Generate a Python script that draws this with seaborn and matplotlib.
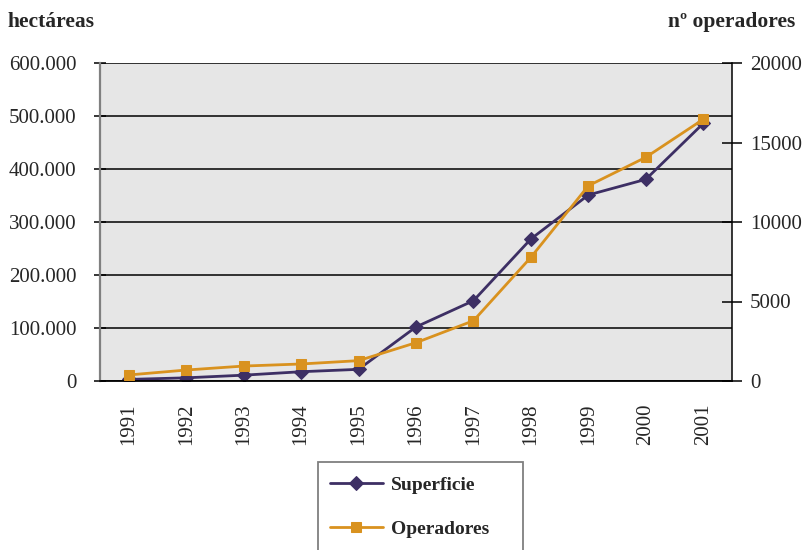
import numpy as np
import pandas as pd
import matplotlib
matplotlib.use("Agg")
import matplotlib.pyplot as plt
import seaborn as sns
from matplotlib.patches import Rectangle
from matplotlib.ticker import FixedLocator, FuncFormatter

years = ["1991", "1992", "1993", "1994", "1995", "1996", "1997", "1998", "1999", "2000", "2001"]
superficie = [3000, 6000, 11000, 17500, 22000, 102000, 151500, 268000, 351000, 380500, 486000]
operadores = [380, 690, 940, 1070, 1280, 2410, 3790, 7780, 12280, 14070, 16460]
left_ticks = [0, 100000, 200000, 300000, 400000, 500000, 600000]
right_ticks = [0, 5000, 10000, 15000, 20000]

df = pd.DataFrame({"pos": np.arange(len(years)), "year": years,
                   "Superficie": superficie, "Operadores": operadores})

sns.set_style("white")
plt.rcParams["font.family"] = ["Liberation Serif", "DejaVu Serif"]

purple = "#3D2F64"
orange = "#D9921F"

fig = plt.figure(figsize=(8.1, 5.5), dpi=100)
ax = fig.add_axes([100/810, 1-381/550, (732-100)/810, (381-63)/550])
ax.set_facecolor("#E6E6E6")
ax2 = ax.twinx()

sns.lineplot(data=df, x="pos", y="Superficie", ax=ax, color=purple, marker="D",
             markersize=7, markeredgecolor=purple, linewidth=2.0, label="Superficie", legend=False)
sns.lineplot(data=df, x="pos", y="Operadores", ax=ax2, color=orange, marker="s",
             markersize=7.5, markeredgecolor=orange, linewidth=2.0, label="Operadores", legend=False)

ax.set_xlim(-0.5, len(years) - 0.5)
ax.set_ylim(0, 600000)
ax2.set_ylim(0, 20000)

ax.yaxis.set_major_locator(FixedLocator(left_ticks))
ax.yaxis.set_major_formatter(FuncFormatter(lambda v, p: "0" if v == 0 else f"{int(v):,}".replace(",", ".")))
ax2.yaxis.set_major_locator(FixedLocator(right_ticks))
ax2.yaxis.set_major_formatter(FuncFormatter(lambda v, p: f"{int(v)}"))

ax.set_xticks(np.arange(len(years) + 1) - 0.5)
ax.set_xticklabels([])
ax.set_xticks(np.arange(len(years)), minor=True)
ax.set_xticklabels(years, minor=True, rotation=90, fontsize=15)
ax.tick_params(axis="x", which="major", direction="out", length=6.5, width=1.2, color="black")
ax.tick_params(axis="x", which="minor", length=0, pad=16)

for v in left_ticks:
    ax.axhline(v, color="black", linewidth=1.1, zorder=1)

ax.tick_params(axis="y", direction="inout", length=8.6, width=1.1, color="black", labelsize=15, pad=12.5, left=True)
ax2.tick_params(axis="y", direction="inout", length=15, width=1.1, color="black", labelsize=15, pad=5.5, right=True)

ax.set_xlabel("")
ax.set_ylabel("")
ax2.set_ylabel("")
ax.grid(False)
ax2.grid(False)

for a in (ax, ax2):
    for s in a.spines.values():
        s.set_visible(False)
ax.spines["left"].set_visible(True)
ax.spines["left"].set_color("#808080")
ax.spines["left"].set_linewidth(1.6)
ax.spines["bottom"].set_visible(True)
ax.spines["bottom"].set_color("black")
ax.spines["bottom"].set_linewidth(1.3)
ax2.spines["right"].set_visible(True)
ax2.spines["right"].set_color("black")
ax2.spines["right"].set_linewidth(1.1)

fig.text(8/810, 1-22/550, "hectáreas", fontsize=15.5, fontweight="bold", ha="left", va="center")
fig.text(795/810, 1-22/550, "nº operadores", fontsize=15.5, fontweight="bold", ha="right", va="center")

# legend box
rect = Rectangle((318/810, 1-600/550), (523-318)/810, (600-462)/550, transform=fig.transFigure,
                 facecolor="white", edgecolor="#7F7F7F", linewidth=1.3, zorder=0)
fig.patches.append(rect)

h1, l1 = ax.get_legend_handles_labels()
h2, l2 = ax2.get_legend_handles_labels()
leg = fig.legend(h1 + h2, l1 + l2, loc="center left", bbox_to_anchor=(330/810, 1-507/550),
                 frameon=False, borderpad=0, borderaxespad=0, handlelength=2.7,
                 handletextpad=0.45, labelspacing=1.35,
                 prop={"family": "Liberation Serif", "weight": "bold", "size": 14})

fig.savefig("out.png", dpi=100)
